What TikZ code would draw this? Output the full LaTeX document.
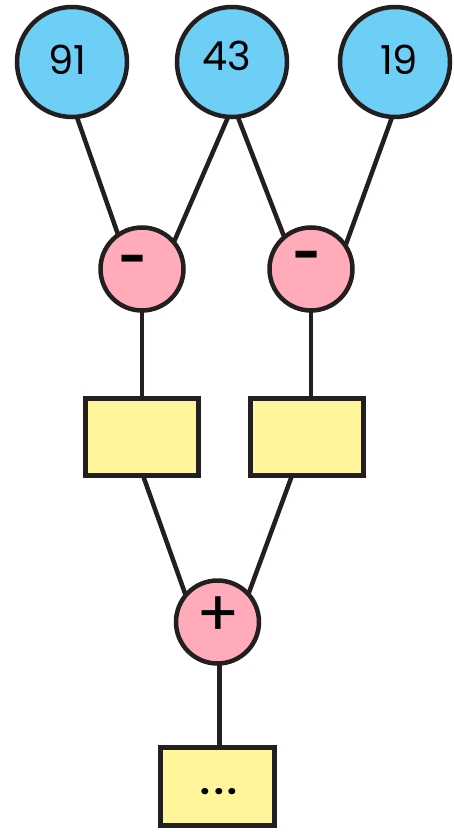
\documentclass[tikz,border=0pt]{standalone}
\usepackage{fontspec}
\setmainfont{Poppins}
\definecolor{stroke}{HTML}{231F20}
\definecolor{numblue}{HTML}{6DCFF6}
\definecolor{oppink}{HTML}{FFABBA}
\definecolor{boxyellow}{HTML}{FFF59A}
\begin{document}
\begin{tikzpicture}[x=1pt,y=-1pt,
  every node/.style={inner sep=0pt,outer sep=0pt},
  numcirc/.style={circle,draw=stroke,line width=4.5pt,fill=numblue,minimum size=110pt},
  opcirc/.style={circle,draw=stroke,line width=4.5pt,fill=oppink,minimum size=83pt},
  resbox/.style={rectangle,draw=stroke,line width=4.5pt,fill=boxyellow,minimum width=113pt,minimum height=77pt},
  numtext/.style={font=\fontsize{40}{40}\selectfont},
  optext/.style={font=\fontsize{48}{48}\selectfont\bfseries},
  link/.style={draw=stroke,line width=4.5pt}]
\useasboundingbox (0,0) rectangle (453,832);
% inputs
\node[numcirc] (n91) at (72,62) {};
\node[numcirc] (n43) at (232,62) {};
\node[numcirc] (n19) at (395,62) {};
\node[numtext] (t91) at (67,60) {91};
\node[numtext] (t43) at (227,56) {43};
\node[numtext] (t19) at (399,60) {19};
% operators
\node[opcirc] (mL) at (142,269) {};
\node[opcirc] (mR) at (311,269) {};
\node[opcirc] (pl) at (217.5,622) {};
\node[optext] (sL) at (133,265) {-};
\node[optext] (sR) at (307,261) {-};
\node[font=\fontsize{64}{64}\selectfont] (sP) at (218,617) {+};
% boxes
\node[resbox] (bL) at (142,437) {};
\node[resbox] (bR) at (307,437) {};
\node[resbox,minimum width=114pt,minimum height=78pt] (bO) at (217.5,786.5) {};
\node[font=\fontsize{34}{34}\selectfont\bfseries] (dots) at (219,792) {.\hspace{4pt}.\hspace{4pt}.};
% connectors
\draw[link] (n91.-85) -- (mL.125);
\draw[link] (n43.-94) -- (mL.40);
\draw[link] (n43.-84) -- (mR.130);
\draw[link] (n19.-93) -- (mR.34);
\draw[link] (mL.south) -- (bL.north -| mL.south);
\draw[link] (mR.south) -- (bR.north -| mR.south);
\draw[link] ([xshift=1pt]bL.south) -- (pl.140);
\draw[link] ([xshift=-15pt]bR.south) -- (pl.42);
\draw[link] ([xshift=2pt]pl.south) -- ([xshift=2pt]bO.north);
\end{tikzpicture}
\end{document}
